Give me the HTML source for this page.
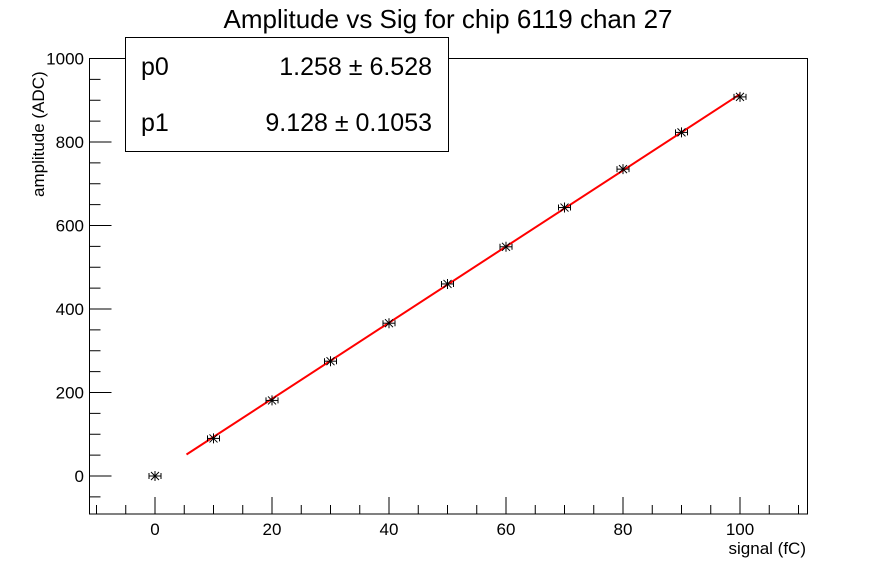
<!DOCTYPE html>
<html><head><meta charset="utf-8"><style>
body{margin:0;background:#fff;}
svg text{font-family:"Liberation Sans",Arial,sans-serif;fill:#000;}
</style></head><body>
<svg width="896" height="572" viewBox="0 0 896 572" xmlns="http://www.w3.org/2000/svg">
<rect x="0" y="0" width="896" height="572" fill="#fff"/>
<rect x="89.5" y="58.5" width="718" height="455.5" fill="none" stroke="#000" stroke-width="1"/>
<g stroke="#000" stroke-width="1" id="ticks"></g>
<g font-size="17" text-anchor="middle" id="xl"></g>
<g font-size="17" text-anchor="end" id="yl"></g>
<text x="448" y="28" font-size="26" text-anchor="middle">Amplitude vs Sig for chip 6119 chan 27</text>
<text x="806" y="554" font-size="17" text-anchor="end">signal (fC)</text>
<text transform="translate(44,197) rotate(-90)" font-size="17" text-anchor="start">amplitude (ADC)</text>
<polyline points="186.5,454.5 740,94.2" fill="none" stroke="#f00" stroke-width="2"/>
<g stroke="#000" stroke-width="1" fill="none" id="pts"></g>
<rect x="125.5" y="37.5" width="323" height="114" fill="#fff" stroke="#000"/>
<text x="141" y="75" font-size="25">p0</text>
<text x="432" y="75" font-size="25" text-anchor="end">1.258 ± 6.528</text>
<text x="141" y="131" font-size="25">p1</text>
<text x="432" y="131" font-size="25" text-anchor="end">9.128 ± 0.1053</text>
</svg>
<script>
var ns="http://www.w3.org/2000/svg";
function X(v){return 155+5.85*v;}function Y(v){return 476-0.4175*v;}
function el(p,t,a,txt){var e=document.createElementNS(ns,t);for(var k in a)e.setAttribute(k,a[k]);if(txt!==undefined)e.textContent=txt;document.getElementById(p).appendChild(e);}
for(var v=-10;v<=110;v+=5){var x=X(v);var L=(v%20==0)?17:9;el("ticks","line",{x1:x,y1:514,x2:x,y2:514-L});if(v%20==0)el("xl","text",{x:x,y:535},v);}
for(var v=-50;v<=1000;v+=50){var y=Y(v);if(y<58)continue;var L=(v%200==0)?22:11;el("ticks","line",{x1:89.5,y1:y,x2:89.5+L,y2:y});if(v%200==0)el("yl","text",{x:84,y:y+6},v);}
var d=[0,90,181,275,366,460,549,643,735,823,908];
for(var i=0;i<d.length;i++){var x=X(i*10),y=Y(d[i]);
el("pts","line",{x1:x-6,y1:y,x2:x+6,y2:y});el("pts","line",{x1:x-6,y1:y-3,x2:x-6,y2:y+3});el("pts","line",{x1:x+6,y1:y-3,x2:x+6,y2:y+3});
el("pts","line",{x1:x-4,y1:y-4,x2:x+4,y2:y+4});el("pts","line",{x1:x-4,y1:y+4,x2:x+4,y2:y-4});el("pts","line",{x1:x,y1:y-5,x2:x,y2:y+5});}
</script>
</body></html>
